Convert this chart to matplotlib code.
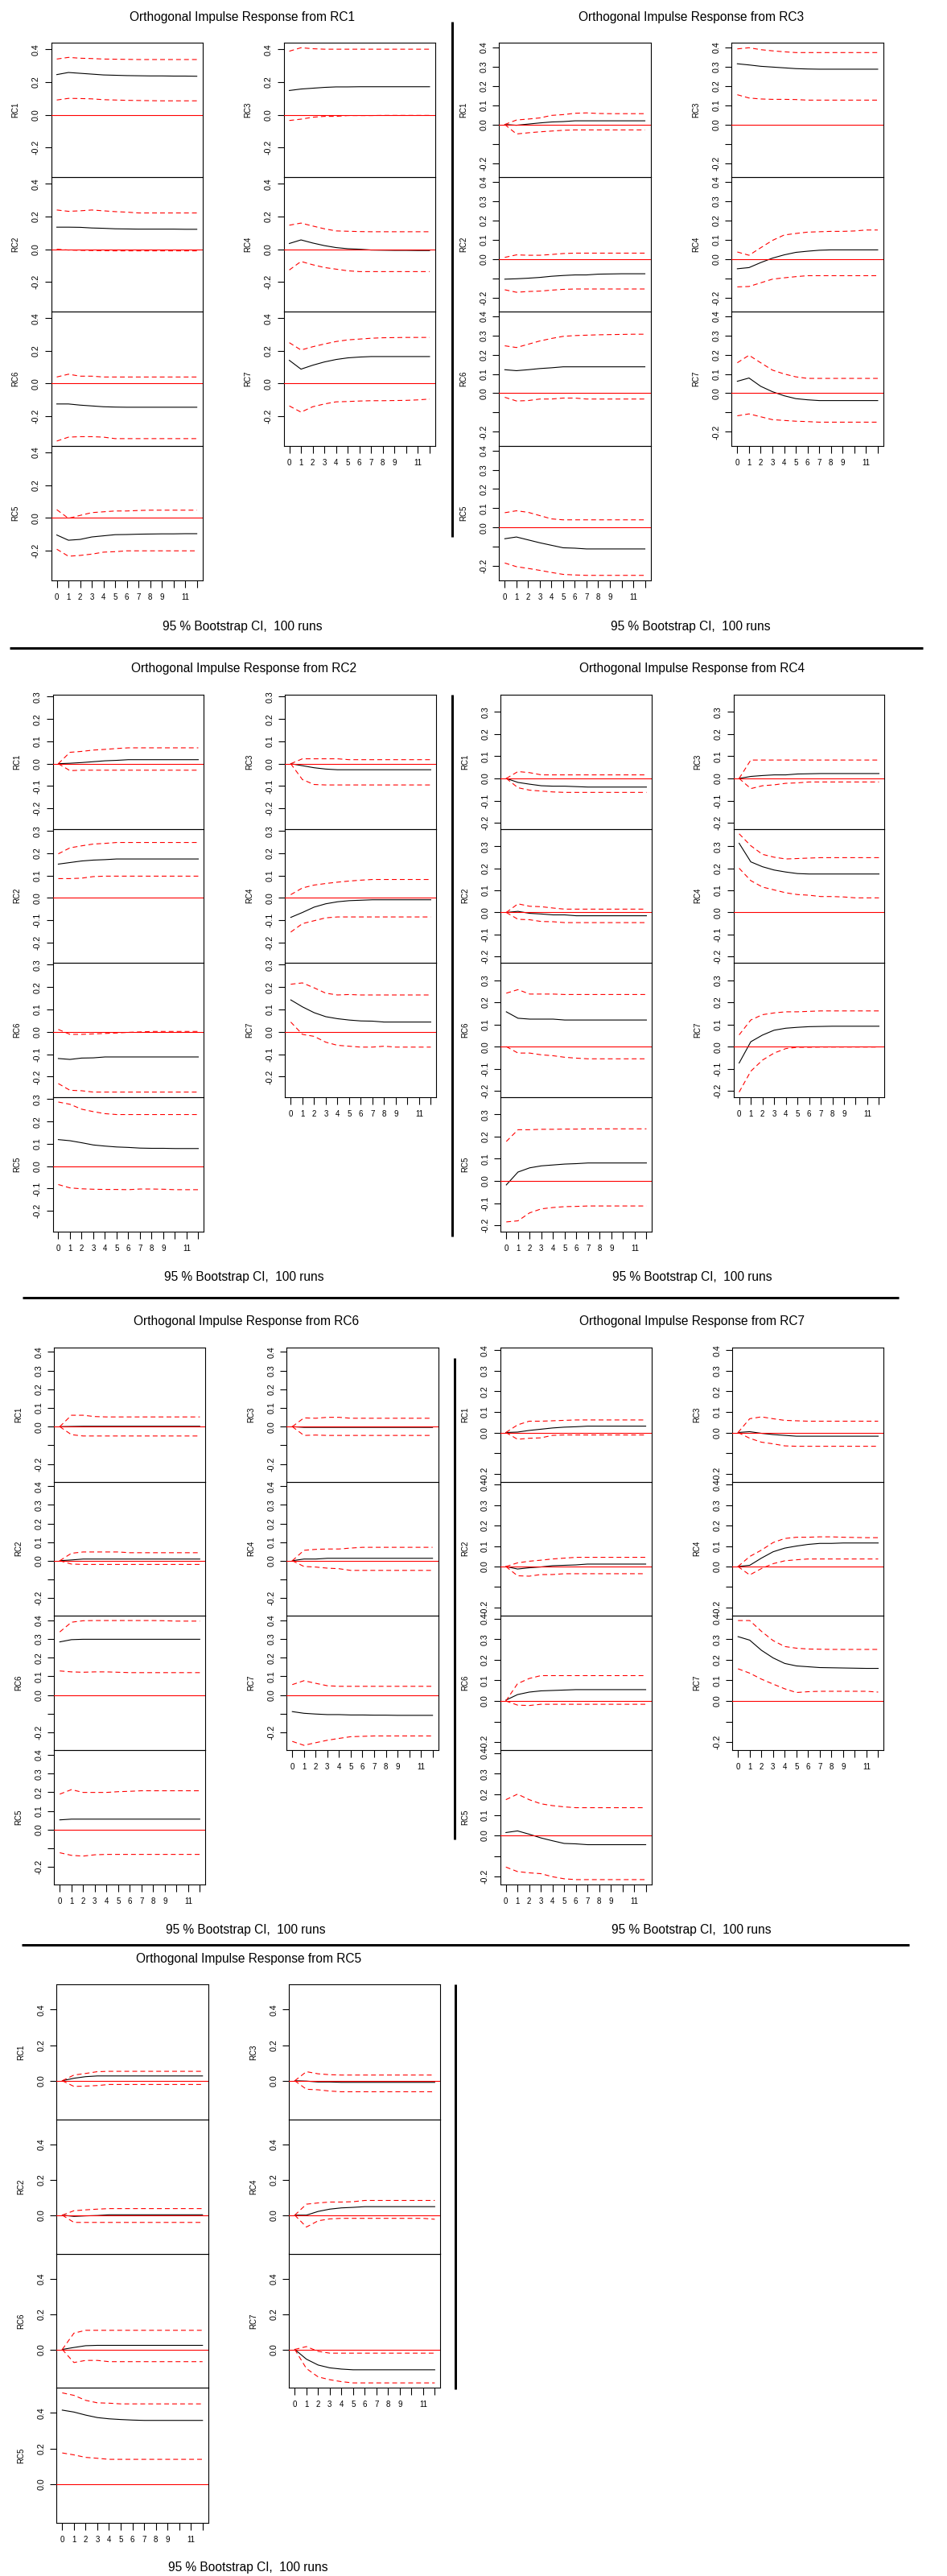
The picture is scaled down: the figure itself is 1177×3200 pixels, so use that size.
import matplotlib
matplotlib.use("Agg")
import matplotlib.pyplot as plt
from matplotlib.font_manager import FontProperties, findfont

W, H, DPI = 1177, 3200, 100

# ---------------------------------------------------------------- data
lags = list(range(13))
lag_labels = ["0", "1", "2", "3", "4", "5", "6", "7", "8", "9", "", "11", ""]
left_vars = ["RC1", "RC2", "RC6", "RC5"]
right_vars = ["RC3", "RC4", "RC7"]
title_prefix = "Orthogonal Impulse Response from "
ci_text = "95 % Bootstrap CI,  100 runs"

# impulse RC1
rc1_irf = {
    "RC1": [0.245, 0.258, 0.253, 0.248, 0.243, 0.241, 0.239, 0.238, 0.237, 0.237, 0.236, 0.236, 0.235],
    "RC2": [0.135, 0.135, 0.134, 0.130, 0.128, 0.125, 0.124, 0.123, 0.123, 0.123, 0.123, 0.122, 0.122],
    "RC6": [-0.125, -0.125, -0.132, -0.137, -0.142, -0.144, -0.145, -0.145, -0.145, -0.145, -0.145, -0.145, -0.145],
    "RC5": [-0.105, -0.137, -0.132, -0.117, -0.110, -0.103, -0.102, -0.100, -0.099, -0.098, -0.098, -0.097, -0.097],
    "RC3": [0.148, 0.157, 0.162, 0.167, 0.170, 0.170, 0.171, 0.171, 0.171, 0.171, 0.171, 0.171, 0.171],
    "RC4": [0.035, 0.057, 0.038, 0.022, 0.010, 0.003, 0.000, -0.005, -0.006, -0.007, -0.007, -0.008, -0.008],
    "RC7": [0.142, 0.088, 0.112, 0.132, 0.147, 0.157, 0.162, 0.165, 0.165, 0.165, 0.165, 0.165, 0.165],
}
rc1_lower = {
    "RC1": [0.090, 0.100, 0.099, 0.097, 0.092, 0.090, 0.088, 0.087, 0.086, 0.085, 0.085, 0.085, 0.085],
    "RC2": [0.000, -0.005, -0.007, -0.008, -0.009, -0.010, -0.010, -0.010, -0.010, -0.010, -0.010, -0.010, -0.010],
    "RC6": [-0.352, -0.328, -0.325, -0.325, -0.328, -0.337, -0.337, -0.337, -0.337, -0.337, -0.337, -0.337, -0.337],
    "RC5": [-0.192, -0.235, -0.230, -0.222, -0.210, -0.207, -0.202, -0.202, -0.202, -0.202, -0.202, -0.202, -0.202],
    "RC3": [-0.035, -0.027, -0.015, -0.010, -0.010, -0.005, -0.005, -0.005, -0.004, -0.004, -0.004, -0.004, -0.004],
    "RC4": [-0.127, -0.075, -0.095, -0.112, -0.122, -0.132, -0.137, -0.137, -0.137, -0.137, -0.137, -0.137, -0.137],
    "RC7": [-0.137, -0.175, -0.142, -0.125, -0.112, -0.110, -0.107, -0.105, -0.105, -0.104, -0.103, -0.100, -0.095],
}
rc1_upper = {
    "RC1": [0.340, 0.350, 0.345, 0.343, 0.340, 0.339, 0.338, 0.337, 0.337, 0.337, 0.337, 0.337, 0.337],
    "RC2": [0.240, 0.232, 0.235, 0.240, 0.235, 0.230, 0.227, 0.222, 0.222, 0.222, 0.222, 0.222, 0.222],
    "RC6": [0.040, 0.057, 0.045, 0.045, 0.040, 0.040, 0.040, 0.040, 0.040, 0.040, 0.040, 0.040, 0.040],
    "RC5": [0.050, -0.003, 0.015, 0.032, 0.037, 0.042, 0.042, 0.045, 0.047, 0.047, 0.047, 0.047, 0.047],
    "RC3": [0.388, 0.409, 0.403, 0.400, 0.400, 0.400, 0.400, 0.400, 0.400, 0.400, 0.400, 0.400, 0.400],
    "RC4": [0.147, 0.160, 0.142, 0.125, 0.112, 0.110, 0.108, 0.107, 0.107, 0.107, 0.107, 0.107, 0.107],
    "RC7": [0.250, 0.205, 0.225, 0.242, 0.257, 0.267, 0.272, 0.277, 0.280, 0.281, 0.282, 0.282, 0.282],
}

# impulse RC3
rc3_irf = {
    "RC1": [0.000, -0.004, 0.002, 0.008, 0.013, 0.015, 0.019, 0.019, 0.019, 0.019, 0.019, 0.019, 0.019],
    "RC2": [-0.105, -0.103, -0.100, -0.096, -0.090, -0.086, -0.083, -0.083, -0.079, -0.078, -0.077, -0.077, -0.077],
    "RC6": [0.122, 0.117, 0.122, 0.128, 0.132, 0.137, 0.137, 0.137, 0.137, 0.137, 0.137, 0.137, 0.137],
    "RC5": [-0.058, -0.049, -0.064, -0.079, -0.092, -0.105, -0.107, -0.111, -0.111, -0.111, -0.111, -0.111, -0.111],
    "RC3": [0.314, 0.308, 0.301, 0.297, 0.293, 0.289, 0.287, 0.286, 0.286, 0.286, 0.286, 0.286, 0.286],
    "RC4": [-0.051, -0.045, -0.019, 0.004, 0.021, 0.034, 0.040, 0.045, 0.047, 0.047, 0.047, 0.047, 0.047],
    "RC7": [0.062, 0.079, 0.036, 0.008, -0.013, -0.028, -0.034, -0.038, -0.038, -0.038, -0.038, -0.038, -0.038],
}
rc3_lower = {
    "RC1": [0.000, -0.049, -0.043, -0.038, -0.034, -0.030, -0.028, -0.028, -0.028, -0.028, -0.028, -0.028, -0.028],
    "RC2": [-0.160, -0.173, -0.169, -0.167, -0.162, -0.158, -0.156, -0.156, -0.156, -0.156, -0.156, -0.156, -0.156],
    "RC6": [-0.021, -0.040, -0.038, -0.030, -0.030, -0.025, -0.025, -0.030, -0.030, -0.030, -0.030, -0.030, -0.030],
    "RC5": [-0.184, -0.203, -0.212, -0.222, -0.233, -0.243, -0.246, -0.248, -0.248, -0.248, -0.248, -0.248, -0.248],
    "RC3": [0.154, 0.137, 0.132, 0.130, 0.130, 0.129, 0.126, 0.126, 0.126, 0.126, 0.126, 0.126, 0.126],
    "RC4": [-0.145, -0.143, -0.124, -0.105, -0.098, -0.092, -0.087, -0.087, -0.087, -0.087, -0.087, -0.087, -0.087],
    "RC7": [-0.117, -0.107, -0.122, -0.137, -0.141, -0.145, -0.147, -0.150, -0.150, -0.150, -0.150, -0.150, -0.150],
}
rc3_upper = {
    "RC1": [0.000, 0.023, 0.028, 0.034, 0.047, 0.051, 0.058, 0.060, 0.057, 0.056, 0.056, 0.056, 0.056],
    "RC2": [0.008, 0.021, 0.019, 0.019, 0.023, 0.028, 0.030, 0.030, 0.030, 0.030, 0.030, 0.030, 0.030],
    "RC6": [0.246, 0.237, 0.254, 0.271, 0.284, 0.295, 0.299, 0.301, 0.303, 0.304, 0.305, 0.306, 0.306],
    "RC5": [0.077, 0.087, 0.079, 0.062, 0.045, 0.040, 0.040, 0.040, 0.040, 0.040, 0.040, 0.040, 0.040],
    "RC3": [0.391, 0.397, 0.387, 0.381, 0.376, 0.372, 0.372, 0.372, 0.372, 0.372, 0.372, 0.372, 0.372],
    "RC4": [0.036, 0.019, 0.058, 0.096, 0.124, 0.132, 0.139, 0.141, 0.143, 0.143, 0.145, 0.150, 0.150],
    "RC7": [0.158, 0.197, 0.158, 0.120, 0.100, 0.085, 0.077, 0.077, 0.077, 0.077, 0.077, 0.077, 0.077],
}

# impulse RC2
rc2_irf = {
    "RC1": [0.000, 0.002, 0.005, 0.009, 0.013, 0.015, 0.018, 0.018, 0.018, 0.018, 0.018, 0.018, 0.018],
    "RC2": [0.151, 0.158, 0.165, 0.169, 0.171, 0.174, 0.174, 0.174, 0.174, 0.174, 0.174, 0.174, 0.174],
    "RC6": [-0.119, -0.123, -0.117, -0.116, -0.112, -0.112, -0.112, -0.112, -0.112, -0.112, -0.112, -0.112, -0.112],
    "RC5": [0.119, 0.114, 0.105, 0.095, 0.090, 0.086, 0.084, 0.081, 0.080, 0.080, 0.079, 0.079, 0.079],
    "RC3": [0.000, -0.009, -0.018, -0.024, -0.027, -0.027, -0.027, -0.027, -0.027, -0.027, -0.027, -0.027, -0.027],
    "RC4": [-0.088, -0.066, -0.042, -0.027, -0.018, -0.013, -0.011, -0.009, -0.009, -0.009, -0.009, -0.009, -0.009],
    "RC7": [0.143, 0.112, 0.086, 0.068, 0.059, 0.053, 0.049, 0.048, 0.044, 0.044, 0.044, 0.044, 0.044],
}
rc2_lower = {
    "RC1": [0.000, -0.031, -0.029, -0.029, -0.029, -0.029, -0.029, -0.029, -0.029, -0.029, -0.029, -0.029, -0.029],
    "RC2": [0.086, 0.086, 0.088, 0.095, 0.097, 0.097, 0.097, 0.097, 0.097, 0.097, 0.097, 0.097, 0.097],
    "RC6": [-0.231, -0.261, -0.263, -0.269, -0.269, -0.269, -0.269, -0.269, -0.269, -0.269, -0.269, -0.269, -0.269],
    "RC5": [-0.082, -0.097, -0.101, -0.103, -0.104, -0.104, -0.105, -0.102, -0.102, -0.103, -0.105, -0.105, -0.105],
    "RC3": [0.000, -0.071, -0.093, -0.095, -0.095, -0.095, -0.095, -0.095, -0.095, -0.095, -0.095, -0.095, -0.095],
    "RC4": [-0.154, -0.116, -0.103, -0.090, -0.086, -0.086, -0.086, -0.086, -0.086, -0.086, -0.086, -0.086, -0.086],
    "RC7": [0.044, -0.011, -0.020, -0.046, -0.060, -0.064, -0.068, -0.068, -0.064, -0.068, -0.068, -0.068, -0.068],
}
rc2_upper = {
    "RC1": [0.000, 0.051, 0.055, 0.061, 0.064, 0.068, 0.071, 0.071, 0.071, 0.071, 0.071, 0.071, 0.071],
    "RC2": [0.197, 0.224, 0.233, 0.241, 0.244, 0.248, 0.248, 0.248, 0.248, 0.248, 0.248, 0.248, 0.248],
    "RC6": [0.011, -0.011, -0.011, -0.009, -0.007, -0.005, -0.002, 0.000, 0.002, 0.002, 0.002, 0.002, 0.002],
    "RC5": [0.287, 0.277, 0.255, 0.244, 0.235, 0.231, 0.231, 0.231, 0.231, 0.231, 0.231, 0.231, 0.231],
    "RC3": [0.000, 0.022, 0.022, 0.022, 0.022, 0.018, 0.018, 0.018, 0.018, 0.018, 0.018, 0.018, 0.018],
    "RC4": [0.014, 0.044, 0.057, 0.064, 0.070, 0.075, 0.079, 0.082, 0.082, 0.082, 0.082, 0.082, 0.082],
    "RC7": [0.213, 0.219, 0.197, 0.173, 0.165, 0.167, 0.165, 0.165, 0.165, 0.165, 0.165, 0.165, 0.165],
}

# impulse RC4
rc4_irf = {
    "RC1": [0.000, -0.018, -0.026, -0.033, -0.035, -0.035, -0.037, -0.039, -0.039, -0.039, -0.039, -0.039, -0.039],
    "RC2": [0.000, 0.005, -0.004, -0.007, -0.011, -0.011, -0.015, -0.015, -0.015, -0.015, -0.015, -0.015, -0.015],
    "RC6": [0.157, 0.128, 0.124, 0.124, 0.124, 0.120, 0.120, 0.120, 0.120, 0.120, 0.120, 0.120, 0.120],
    "RC5": [-0.018, 0.040, 0.059, 0.068, 0.072, 0.076, 0.078, 0.081, 0.081, 0.081, 0.081, 0.081, 0.081],
    "RC3": [0.000, 0.009, 0.013, 0.016, 0.016, 0.020, 0.021, 0.022, 0.022, 0.022, 0.022, 0.022, 0.022],
    "RC4": [0.313, 0.229, 0.207, 0.192, 0.183, 0.176, 0.174, 0.174, 0.174, 0.174, 0.174, 0.174, 0.174],
    "RC7": [-0.074, 0.022, 0.052, 0.074, 0.083, 0.087, 0.090, 0.091, 0.092, 0.092, 0.092, 0.092, 0.092],
}
rc4_lower = {
    "RC1": [0.000, -0.042, -0.053, -0.057, -0.061, -0.063, -0.063, -0.063, -0.063, -0.063, -0.063, -0.063, -0.063],
    "RC2": [0.000, -0.031, -0.033, -0.041, -0.042, -0.046, -0.046, -0.046, -0.046, -0.046, -0.046, -0.046, -0.046],
    "RC6": [0.000, -0.029, -0.029, -0.037, -0.041, -0.048, -0.052, -0.055, -0.055, -0.055, -0.055, -0.055, -0.055],
    "RC5": [-0.185, -0.180, -0.144, -0.126, -0.120, -0.116, -0.115, -0.113, -0.113, -0.113, -0.113, -0.113, -0.113],
    "RC3": [0.000, -0.046, -0.033, -0.029, -0.022, -0.020, -0.016, -0.016, -0.016, -0.016, -0.016, -0.016, -0.016],
    "RC4": [0.200, 0.144, 0.115, 0.102, 0.089, 0.081, 0.078, 0.072, 0.072, 0.070, 0.066, 0.066, 0.066],
    "RC7": [-0.205, -0.111, -0.061, -0.029, -0.009, -0.003, -0.003, -0.002, -0.002, -0.002, -0.002, -0.002, -0.002],
}
rc4_upper = {
    "RC1": [0.000, 0.031, 0.026, 0.016, 0.016, 0.016, 0.016, 0.016, 0.016, 0.016, 0.016, 0.016, 0.016],
    "RC2": [0.000, 0.039, 0.028, 0.026, 0.020, 0.015, 0.015, 0.015, 0.015, 0.015, 0.015, 0.015, 0.015],
    "RC6": [0.241, 0.257, 0.237, 0.237, 0.237, 0.235, 0.235, 0.235, 0.235, 0.235, 0.235, 0.235, 0.235],
    "RC5": [0.178, 0.231, 0.231, 0.233, 0.233, 0.234, 0.234, 0.235, 0.235, 0.235, 0.235, 0.235, 0.235],
    "RC3": [0.000, 0.083, 0.083, 0.083, 0.083, 0.083, 0.083, 0.083, 0.083, 0.083, 0.083, 0.083, 0.083],
    "RC4": [0.356, 0.302, 0.263, 0.250, 0.242, 0.244, 0.246, 0.248, 0.248, 0.248, 0.248, 0.248, 0.248],
    "RC7": [0.053, 0.120, 0.144, 0.152, 0.157, 0.157, 0.159, 0.161, 0.161, 0.161, 0.161, 0.161, 0.161],
}

# impulse RC6
rc6_irf = {
    "RC1": [0.000, 0.001, 0.002, 0.002, 0.002, 0.002, 0.002, 0.002, 0.002, 0.002, 0.002, 0.002, 0.002],
    "RC2": [0.000, 0.004, 0.009, 0.009, 0.009, 0.009, 0.009, 0.009, 0.009, 0.009, 0.009, 0.009, 0.009],
    "RC6": [0.284, 0.296, 0.298, 0.298, 0.298, 0.298, 0.298, 0.298, 0.298, 0.298, 0.298, 0.298, 0.298],
    "RC5": [0.052, 0.056, 0.056, 0.056, 0.056, 0.056, 0.056, 0.056, 0.056, 0.056, 0.056, 0.056, 0.056],
    "RC3": [0.000, -0.004, -0.004, -0.004, -0.004, -0.004, -0.004, -0.004, -0.004, -0.004, -0.004, -0.004, -0.004],
    "RC4": [0.000, 0.009, 0.009, 0.013, 0.013, 0.013, 0.013, 0.013, 0.013, 0.013, 0.013, 0.013, 0.013],
    "RC7": [-0.088, -0.097, -0.101, -0.104, -0.104, -0.106, -0.106, -0.107, -0.107, -0.108, -0.108, -0.108, -0.108],
}
rc6_lower = {
    "RC1": [0.000, -0.043, -0.050, -0.050, -0.050, -0.050, -0.050, -0.050, -0.050, -0.050, -0.050, -0.050, -0.050],
    "RC2": [0.000, -0.018, -0.020, -0.020, -0.020, -0.020, -0.020, -0.020, -0.020, -0.020, -0.020, -0.020, -0.020],
    "RC6": [0.129, 0.124, 0.122, 0.124, 0.124, 0.122, 0.120, 0.120, 0.120, 0.120, 0.120, 0.120, 0.120],
    "RC5": [-0.124, -0.138, -0.142, -0.135, -0.133, -0.133, -0.133, -0.133, -0.133, -0.133, -0.133, -0.133, -0.133],
    "RC3": [0.000, -0.047, -0.045, -0.047, -0.047, -0.047, -0.047, -0.047, -0.047, -0.047, -0.047, -0.047, -0.047],
    "RC4": [0.000, -0.031, -0.034, -0.040, -0.043, -0.052, -0.052, -0.052, -0.052, -0.052, -0.052, -0.052, -0.052],
    "RC7": [-0.247, -0.268, -0.254, -0.241, -0.231, -0.222, -0.220, -0.218, -0.218, -0.218, -0.218, -0.218, -0.218],
}
rc6_upper = {
    "RC1": [0.000, 0.061, 0.061, 0.054, 0.052, 0.052, 0.052, 0.052, 0.052, 0.052, 0.052, 0.052, 0.052],
    "RC2": [0.000, 0.040, 0.047, 0.047, 0.047, 0.047, 0.043, 0.043, 0.043, 0.043, 0.043, 0.043, 0.043],
    "RC6": [0.337, 0.389, 0.397, 0.398, 0.398, 0.398, 0.398, 0.398, 0.398, 0.397, 0.395, 0.395, 0.395],
    "RC5": [0.190, 0.214, 0.199, 0.199, 0.199, 0.203, 0.205, 0.208, 0.208, 0.208, 0.208, 0.208, 0.208],
    "RC3": [0.000, 0.047, 0.045, 0.050, 0.050, 0.045, 0.045, 0.045, 0.045, 0.045, 0.045, 0.045, 0.045],
    "RC4": [0.000, 0.056, 0.061, 0.063, 0.063, 0.068, 0.072, 0.072, 0.072, 0.072, 0.072, 0.072, 0.072],
    "RC7": [0.056, 0.077, 0.063, 0.050, 0.047, 0.047, 0.047, 0.047, 0.047, 0.047, 0.047, 0.047, 0.047],
}

# impulse RC7
rc7_irf = {
    "RC1": [0.000, 0.002, 0.010, 0.016, 0.022, 0.026, 0.028, 0.031, 0.031, 0.031, 0.031, 0.031, 0.031],
    "RC2": [0.000, -0.012, -0.006, -0.002, 0.004, 0.006, 0.008, 0.012, 0.012, 0.012, 0.012, 0.012, 0.012],
    "RC6": [0.004, 0.031, 0.043, 0.049, 0.051, 0.053, 0.055, 0.055, 0.055, 0.055, 0.055, 0.055, 0.055],
    "RC5": [0.014, 0.022, 0.006, -0.012, -0.026, -0.039, -0.041, -0.045, -0.045, -0.045, -0.045, -0.045, -0.045],
    "RC3": [0.000, 0.004, -0.004, -0.010, -0.014, -0.018, -0.018, -0.018, -0.018, -0.018, -0.018, -0.018, -0.018],
    "RC4": [0.000, 0.006, 0.041, 0.072, 0.090, 0.100, 0.108, 0.113, 0.113, 0.115, 0.115, 0.115, 0.115],
    "RC7": [0.312, 0.295, 0.246, 0.209, 0.182, 0.170, 0.166, 0.162, 0.161, 0.160, 0.159, 0.158, 0.158],
}
rc7_lower = {
    "RC1": [0.000, -0.033, -0.028, -0.026, -0.014, -0.012, -0.012, -0.012, -0.012, -0.012, -0.012, -0.012, -0.012],
    "RC2": [0.000, -0.045, -0.047, -0.039, -0.039, -0.035, -0.035, -0.035, -0.035, -0.035, -0.035, -0.035, -0.035],
    "RC6": [0.000, -0.020, -0.022, -0.016, -0.016, -0.016, -0.016, -0.016, -0.016, -0.016, -0.016, -0.016, -0.016],
    "RC5": [-0.154, -0.176, -0.182, -0.186, -0.201, -0.211, -0.215, -0.215, -0.215, -0.215, -0.215, -0.215, -0.215],
    "RC3": [0.000, -0.028, -0.047, -0.055, -0.065, -0.067, -0.067, -0.067, -0.067, -0.067, -0.067, -0.067, -0.067],
    "RC4": [0.000, -0.041, -0.010, 0.014, 0.028, 0.033, 0.037, 0.037, 0.037, 0.037, 0.037, 0.037, 0.037],
    "RC7": [0.156, 0.135, 0.106, 0.082, 0.059, 0.041, 0.045, 0.047, 0.047, 0.047, 0.047, 0.047, 0.043],
}
rc7_upper = {
    "RC1": [0.000, 0.037, 0.055, 0.055, 0.057, 0.059, 0.061, 0.061, 0.061, 0.061, 0.061, 0.061, 0.061],
    "RC2": [0.000, 0.018, 0.026, 0.031, 0.037, 0.041, 0.045, 0.045, 0.045, 0.045, 0.045, 0.045, 0.045],
    "RC6": [0.000, 0.084, 0.109, 0.123, 0.123, 0.123, 0.123, 0.123, 0.123, 0.123, 0.123, 0.123, 0.123],
    "RC5": [0.174, 0.201, 0.174, 0.154, 0.145, 0.139, 0.135, 0.135, 0.135, 0.135, 0.135, 0.135, 0.135],
    "RC3": [0.000, 0.067, 0.076, 0.067, 0.059, 0.057, 0.055, 0.055, 0.055, 0.055, 0.055, 0.055, 0.055],
    "RC4": [0.000, 0.049, 0.080, 0.117, 0.137, 0.143, 0.143, 0.145, 0.145, 0.143, 0.142, 0.141, 0.141],
    "RC7": [0.390, 0.390, 0.338, 0.293, 0.264, 0.256, 0.252, 0.251, 0.250, 0.250, 0.250, 0.250, 0.250],
}

# impulse RC5
rc5_irf = {
    "RC1": [0.000, 0.014, 0.023, 0.027, 0.027, 0.027, 0.027, 0.027, 0.027, 0.027, 0.027, 0.027, 0.027],
    "RC2": [0.000, -0.007, -0.004, -0.002, 0.002, 0.002, 0.002, 0.002, 0.002, 0.002, 0.002, 0.002, 0.002],
    "RC6": [0.000, 0.011, 0.021, 0.023, 0.023, 0.023, 0.023, 0.023, 0.023, 0.023, 0.023, 0.023, 0.023],
    "RC5": [0.416, 0.405, 0.388, 0.374, 0.367, 0.363, 0.360, 0.358, 0.358, 0.358, 0.358, 0.358, 0.358],
    "RC3": [0.000, -0.002, -0.007, -0.007, -0.009, -0.009, -0.009, -0.009, -0.009, -0.009, -0.009, -0.009, -0.009],
    "RC4": [0.000, 0.000, 0.021, 0.034, 0.041, 0.044, 0.048, 0.048, 0.048, 0.048, 0.048, 0.048, 0.048],
    "RC7": [0.000, -0.055, -0.088, -0.104, -0.111, -0.115, -0.115, -0.115, -0.115, -0.115, -0.115, -0.115, -0.115],
}
rc5_lower = {
    "RC1": [0.000, -0.032, -0.030, -0.027, -0.021, -0.021, -0.021, -0.021, -0.021, -0.021, -0.021, -0.021, -0.021],
    "RC2": [0.000, -0.041, -0.041, -0.041, -0.041, -0.041, -0.041, -0.041, -0.041, -0.041, -0.041, -0.041, -0.041],
    "RC6": [0.000, -0.074, -0.062, -0.062, -0.069, -0.069, -0.069, -0.069, -0.069, -0.069, -0.069, -0.069, -0.069],
    "RC5": [0.175, 0.164, 0.150, 0.145, 0.139, 0.139, 0.139, 0.139, 0.139, 0.139, 0.139, 0.139, 0.139],
    "RC3": [0.000, -0.048, -0.051, -0.058, -0.062, -0.062, -0.062, -0.062, -0.062, -0.062, -0.062, -0.062, -0.062],
    "RC4": [0.000, -0.067, -0.032, -0.021, -0.018, -0.018, -0.018, -0.018, -0.018, -0.018, -0.018, -0.018, -0.023],
    "RC7": [0.000, -0.108, -0.155, -0.171, -0.182, -0.189, -0.189, -0.189, -0.189, -0.189, -0.189, -0.189, -0.189],
}
rc5_upper = {
    "RC1": [0.000, 0.032, 0.041, 0.051, 0.053, 0.053, 0.053, 0.053, 0.053, 0.053, 0.053, 0.053, 0.053],
    "RC2": [0.000, 0.025, 0.030, 0.034, 0.037, 0.037, 0.037, 0.037, 0.037, 0.037, 0.037, 0.037, 0.037],
    "RC6": [0.000, 0.092, 0.108, 0.108, 0.108, 0.108, 0.108, 0.108, 0.108, 0.108, 0.108, 0.108, 0.108],
    "RC5": [0.513, 0.499, 0.471, 0.457, 0.455, 0.451, 0.451, 0.451, 0.451, 0.451, 0.451, 0.451, 0.451],
    "RC3": [0.000, 0.051, 0.039, 0.034, 0.032, 0.032, 0.032, 0.032, 0.032, 0.032, 0.032, 0.032, 0.032],
    "RC4": [0.000, 0.062, 0.069, 0.074, 0.074, 0.076, 0.083, 0.083, 0.083, 0.083, 0.083, 0.083, 0.083],
    "RC7": [0.000, 0.016, -0.011, -0.021, -0.021, -0.021, -0.021, -0.021, -0.021, -0.021, -0.021, -0.021, -0.021],
}

# y tick values / labels per impulse (labels R dropped for overlap are empty)
yt_coarse = [-0.2, 0.0, 0.2, 0.4]
yl_coarse = ["-0.2", "0.0", "0.2", "0.4"]
yt_fine4 = [-0.2, -0.1, 0.0, 0.1, 0.2, 0.3, 0.4]
yl_fine4 = ["-0.2", "", "0.0", "0.1", "0.2", "0.3", "0.4"]
yt_fine3 = [-0.2, -0.1, 0.0, 0.1, 0.2, 0.3]
yl_fine3 = ["-0.2", "-0.1", "0.0", "0.1", "0.2", "0.3"]
yt_rc5 = [0.0, 0.2, 0.4]
yl_rc5 = ["0.0", "0.2", "0.4"]

# ---------------------------------------------------------------- layout (pixels)
# impulse, irf, lower, upper, yticks, ylabels, left col x, right col x, row edges, title xy, footer xy
blocks = [
    ("RC1", rc1_irf, rc1_lower, rc1_upper, yt_coarse, yl_coarse,
     (63.6, 251.6), (352.6, 540.9), (53.1, 220.4, 387.2, 554.1, 720.9), (301.2, 20.4), (301.6, 777.0)),
    ("RC3", rc3_irf, rc3_lower, rc3_upper, yt_fine4, yl_fine4,
     (620.4, 808.5), (909.4, 1097.9), (53.1, 220.4, 387.2, 554.1, 720.9), (858.7, 20.4), (858.4, 777.0)),
    ("RC2", rc2_irf, rc2_lower, rc2_upper, yt_fine3, yl_fine3,
     (65.5, 253.4), (354.4, 542.4), (862.8, 1029.6, 1195.9, 1362.8, 1529.6), (303.4, 829.1), (303.4, 1585.7)),
    ("RC4", rc4_irf, rc4_lower, rc4_upper, yt_fine3, yl_fine3,
     (622.3, 810.4), (911.7, 1099.4), (862.8, 1029.6, 1195.9, 1362.8, 1529.6), (860.5, 829.1), (860.7, 1585.7)),
    ("RC6", rc6_irf, rc6_lower, rc6_upper, yt_fine4, yl_fine4,
     (67.3, 255.3), (356.3, 544.6), (1673.7, 1840.6, 2006.9, 2174.3, 2341.1), (305.6, 1640.3), (305.4, 2396.5)),
    ("RC7", rc7_irf, rc7_lower, rc7_upper, yt_fine4, yl_fine4,
     (621.8, 809.5), (910.3, 1098.4), (1673.7, 1840.6, 2006.9, 2174.3, 2341.1), (859.5, 1640.3), (859.7, 2396.5)),
    ("RC5", rc5_irf, rc5_lower, rc5_upper, yt_rc5, yl_rc5,
     (70.4, 258.7), (359.4, 547.3), (2465.3, 2632.7, 2799.5, 2966.3, 3133.7), (308.6, 2432.1), (308.6, 3188.8)),
]
h_rules = [(805.1, 12.0, 1147.0), (1611.5, 27.7, 1117.0), (2415.5, 27.0, 1130.0)]
v_rules = [(562.0, 26.5, 667.3), (562.3, 862.8, 1536.2), (564.5, 1687.3, 2285.1), (565.6, 2465.3, 2967.9)]


def font_ok(name):
    try:
        findfont(FontProperties(family=name), fallback_to_default=False)
        return True
    except Exception:
        return False


FAM = "Liberation Sans" if font_ok("Liberation Sans") else "DejaVu Sans"
plt.rcParams["font.family"] = [FAM, "DejaVu Sans"]

PX = 72.0 / DPI          # points per pixel
LW = 1.1 * PX
TITLE_PT = 11.2
XT_PT = 7.0
YT_PT = 7.7
YL_PT = 7.0
TICK_LEN = 8.5 * PX
DASH = (0, (5.4, 3.6))

fig = plt.figure(figsize=(W / DPI, H / DPI), dpi=DPI)
fig.patch.set_facecolor("white")

base = fig.add_axes([0, 0, 1, 1])
base.set_xlim(0, W)
base.set_ylim(H, 0)
base.axis("off")

for y, xa, xb in h_rules:
    base.plot([xa, xb], [y, y], color="black", lw=3 * PX, solid_capstyle="butt")
for x, ya, yb in v_rules:
    base.plot([x, x], [ya, yb], color="black", lw=3 * PX, solid_capstyle="butt")


def block_ylim(lower, upper):
    vals = [v for d in (lower, upper) for k in d for v in d[k]]
    lo, hi = min(vals), max(vals)
    pad = 0.04 * (hi - lo)
    return lo - pad, hi + pad


def add_panel(xs, y0, y1, name, irf, lo, hi, ylim, yticks, ylabels, with_x):
    x0, x1 = xs
    ax = fig.add_axes([x0 / W, 1 - y1 / H, (x1 - x0) / W, (y1 - y0) / H])
    ax.plot(lags, irf, color="black", lw=LW, zorder=2)
    ax.axhline(0.0, color="red", lw=LW, zorder=3)
    ax.plot(lags, hi, color="red", lw=LW, ls=DASH, zorder=4)
    ax.plot(lags, lo, color="red", lw=LW, ls=DASH, zorder=4)
    ax.set_xlim(-0.48, 12.48)
    ax.set_ylim(*ylim)
    for s in ax.spines.values():
        s.set_linewidth(LW)
        s.set_color("black")
    ax.set_yticks(yticks)
    ax.set_yticklabels(ylabels, rotation=90, fontsize=YT_PT, ha="center", va="center")
    ax.tick_params(axis="y", direction="out", length=TICK_LEN, width=LW,
                   pad=(19.0 * PX) - TICK_LEN)
    if with_x:
        ax.set_xticks(lags)
        ax.set_xticklabels(lag_labels, fontsize=XT_PT)
        ax.tick_params(axis="x", direction="out", length=TICK_LEN, width=LW, pad=7.5 * PX)
    else:
        ax.set_xticks([])
    ax.text(-44.0 / (x1 - x0), 0.5, name, transform=ax.transAxes, rotation=90,
            ha="center", va="center", fontsize=YL_PT)
    ax.set_facecolor("none")
    return ax


for (imp, irf, lower, upper, yt, yl, lx, rx, rows, tpos, fpos) in blocks:
    ylim = block_ylim(lower, upper)
    for i, v in enumerate(left_vars):
        add_panel(lx, rows[i], rows[i + 1], v, irf[v], lower[v], upper[v], ylim, yt, yl,
                  with_x=(i == len(left_vars) - 1))
    for i, v in enumerate(right_vars):
        add_panel(rx, rows[i], rows[i + 1], v, irf[v], lower[v], upper[v], ylim, yt, yl,
                  with_x=(i == len(right_vars) - 1))
    em = TITLE_PT / PX
    base.text(tpos[0], tpos[1] + 0.36 * em, title_prefix + imp, ha="center", va="baseline",
              fontsize=TITLE_PT)
    base.text(fpos[0], fpos[1] + 0.36 * em, ci_text, ha="center", va="baseline",
              fontsize=TITLE_PT)

fig.savefig("out.png", dpi=DPI, facecolor="white")
